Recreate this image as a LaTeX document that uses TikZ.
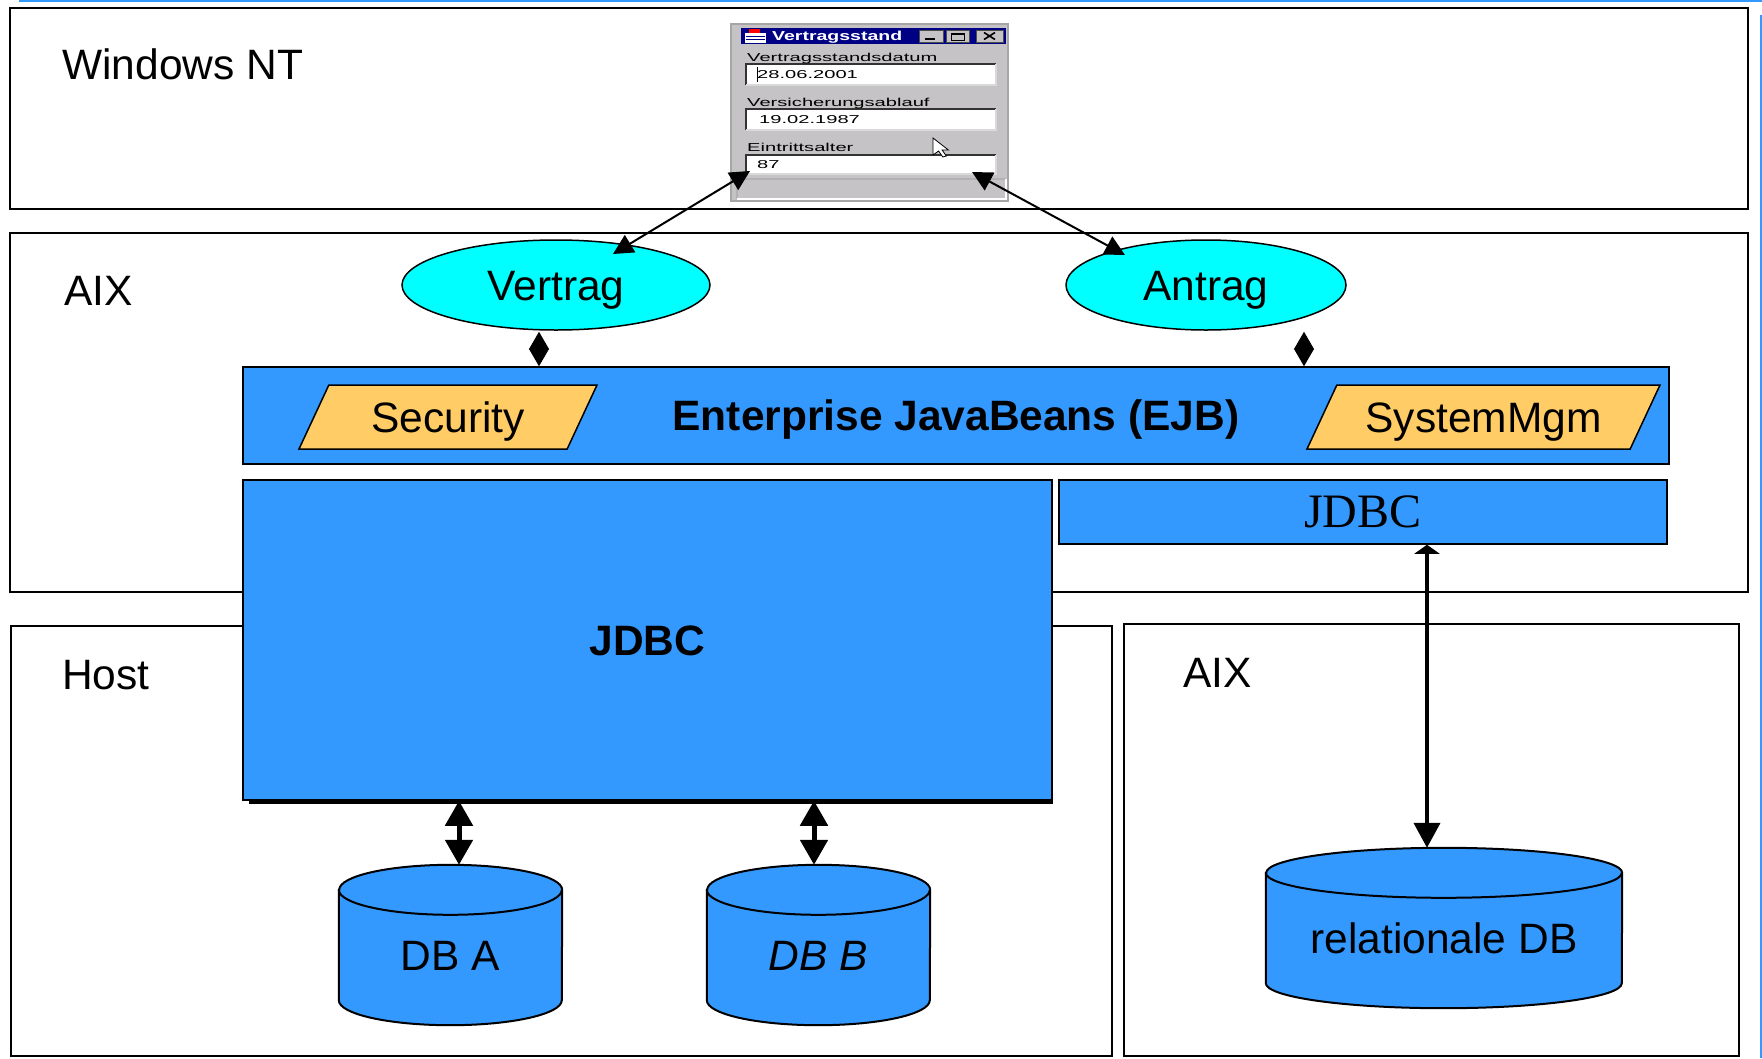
\documentclass[tikz,border=0pt]{standalone}
\usepackage{fontspec}
\usepackage{graphicx}
\setmainfont{Liberation Sans}
\newfontfamily\timesfont{Liberation Serif}
\usetikzlibrary{shapes.geometric,positioning,arrows.meta,backgrounds}
\definecolor{beancolor}{RGB}{51,153,255}
\definecolor{tiercolor}{RGB}{0,255,255}
\definecolor{svccolor}{RGB}{255,204,102}
\definecolor{wingray}{RGB}{198,195,198}
\definecolor{winblue}{RGB}{0,0,132}
\newcommand{\dlgtext}[1]{\scalebox{1.75}[1]{\fontsize{11.5}{12}\selectfont #1}}

\begin{document}
\begin{tikzpicture}[%
    x=1pt, y=1pt,               % one unit is one pixel of the slide
    >={Triangle[length=20pt,width=20pt]},
    font=\fontsize{42.5}{50}\selectfont,
    ]
\tikzset{
  tier/.style={draw, line width=2pt, rectangle, inner sep=0pt},
  tierlbl/.style={anchor=base west, inner sep=0pt},
  bean/.style={draw, ellipse, line width=1.5pt, fill=tiercolor, inner sep=0pt,
    text height=30.5pt, text depth=0pt},
  layer/.style={draw, rectangle, line width=1.5pt, fill=beancolor, inner sep=0pt,
    text height=30.5pt, text depth=0pt},
  svc/.style={draw, trapezium, trapezium left angle=65, trapezium right angle=115,
    trapezium stretches body=true, line width=1.5pt, fill=svccolor,
    inner xsep=0pt, inner ysep=16.75pt, text height=30.5pt, text depth=0pt},
  db/.style={rectangle, inner sep=0pt, text height=50pt, text depth=0pt},
  dbshape/.style={draw, line width=2pt, fill=beancolor},
  dlgtxt/.style={anchor=base west, inner sep=0pt},
  thin/.style={<->, line width=2pt},
  diam/.style={{Triangle[length=17.5pt,width=20pt]}-{Triangle[length=17.5pt,width=20pt]}, line width=1pt},
  dblink/.style={{Triangle[length=25pt,width=27pt]}-{Triangle[length=25pt,width=27pt]}, line width=5pt},
  rellink/.style={{Triangle[length=9pt,width=25pt]}-{Triangle[length=25pt,width=26pt]}, line width=4pt},
}
\useasboundingbox (0,0) rectangle (1762,-1058);

% slide frame
\draw[beancolor, line width=2pt] (19,-1) -- (1762,-1);
\draw[beancolor, line width=1.5pt] (1761,-15) -- (1761,-1058);

% tiers
\node[tier, minimum width=1738pt, minimum height=201pt] (winnt) at (879,-108.5) {};
\node[tier, minimum width=1738pt, minimum height=359pt] (aixtop) at (879,-412.5) {};
\node[tier, minimum width=1101pt, minimum height=430pt] (host) at (561.5,-841) {};
\node[tier, minimum width=615pt, minimum height=432pt] (aixbot) at (1431.5,-840) {};

\node[tierlbl] (winntlbl) at (62,-79) {Windows NT};
\node[tierlbl] (aixtoplbl) at (64,-305) {AIX};
\node[tierlbl] (hostlbl) at (62,-689) {Host};
\node[tierlbl] (aixbotlbl) at (1183,-687) {AIX};

% beans
\node[bean, minimum width=308pt, minimum height=90pt] (vertrag) at (556,-285) {Vertrag};
\node[bean, minimum width=280pt, minimum height=90pt] (antrag) at (1206,-285) {Antrag};

\node[layer, minimum width=1426pt, minimum height=97pt, font=\fontsize{42.5}{50}\selectfont\bfseries]
  (ejb) at (956,-415.5) {Enterprise JavaBeans (EJB)};
\node[svc, minimum width=298pt] (security) at (448,-417) {Security};
\node[svc, minimum width=353pt] (sysmgm) at (1483.5,-417) {SystemMgm};

\node[layer, minimum width=809pt, minimum height=320pt, font=\fontsize{42.5}{50}\selectfont\bfseries]
  (jdbcbig) at (647.5,-640) {JDBC};
\draw[line width=3pt] ([xshift=7pt,yshift=-2pt]jdbcbig.south west) -- ([yshift=-2pt]jdbcbig.south east);
\node[layer, minimum width=608pt, minimum height=64pt, text height=31.8pt, font=\fontsize{48}{56}\timesfont]
  (jdbcsmall) at (1363,-512) {JDBC};

% databases
\node[db, minimum width=223pt, minimum height=160pt] (dba) at (450.5,-945) {DB A};
\node[db, minimum width=223pt, minimum height=160pt, font=\fontsize{42.5}{50}\selectfont\itshape]
  (dbb) at (818.5,-945) {DB B};
\node[db, minimum width=356pt, minimum height=160pt] (reldb) at (1444,-928) {relationale DB};

\begin{pgfonlayer}{background}
\foreach \n/\r in {dba/111.5, dbb/111.5, reldb/178} {
  \path[dbshape] ([yshift=-25pt]\n.north west) -- ([yshift=25pt]\n.south west)
    arc[start angle=180, end angle=360, x radius=\r pt, y radius=25pt]
    -- ([yshift=-25pt]\n.north east)
    arc[start angle=0, end angle=180, x radius=\r pt, y radius=25pt] -- cycle;
  \draw[line width=2pt] ([yshift=-25pt]\n.north west)
    arc[start angle=180, end angle=360, x radius=\r pt, y radius=25pt];
}
\end{pgfonlayer}

% dialog window
\node[rectangle, draw=gray!70, fill=wingray, line width=1.5pt, inner sep=0pt,
  minimum width=277pt, minimum height=177pt] (dialog) at (869.5,-112.5) {};
\fill[winblue] (741,-28) rectangle (1006,-44);
\fill[white] (745,-33) rectangle (766,-43);
\fill[red] (749,-29) rectangle (760,-33);
\draw[winblue, line width=1pt] (746,-36) -- (765,-36) (746,-39.5) -- (765,-39.5);
\node[dlgtxt, text=white] (dlgtitle) at (772,-40)
  {\scalebox{1.5}[1]{\fontsize{13}{14}\selectfont\bfseries Vertragsstand}};
\foreach \a/\b in {919/943, 946/969, 976/1003}
  \filldraw[fill=wingray, draw=black!70, line width=1pt] (\a,-30) rectangle (\b,-42);
\draw[line width=2pt] (925,-39) -- (935,-39);
\draw[line width=1pt] (951,-33) rectangle (964,-40);
\draw[line width=2pt] (951,-33.5) -- (964,-33.5);
\draw[line width=1.6pt] (984,-32.5) -- (995,-39.5) (984,-39.5) -- (995,-32.5);

\foreach \t/\b in {64/85, 109/130, 155/174} {
  \fill[white] (746,-\t) rectangle (996,-\b);
  \draw[black!80, line width=1.5pt] (746,-\b) -- (746,-\t) -- (996,-\t);
  \draw[gray!30, line width=1.5pt] (996,-\t) -- (996,-\b) -- (746,-\b);
}
\draw[gray!60, line width=1.5pt] (737,-199) -- (737,-179) -- (1006,-179);
\draw[white, line width=1.5pt] (1006,-179) -- (1006,-199) -- (737,-199);

\node[dlgtxt] (lbldatum) at (747,-61) {\dlgtext{Vertragsstandsdatum}};
\node[dlgtxt] (valdatum) at (757,-78) {\dlgtext{28.06.2001}};
\draw[line width=1pt] (757,-67) -- (757,-82);
\node[dlgtxt] (lblablauf) at (747,-106) {\dlgtext{Versicherungsablauf}};
\node[dlgtxt] (valablauf) at (759,-123) {\dlgtext{19.02.1987}};
\node[dlgtxt] (lblalter) at (747,-151) {\dlgtext{Eintrittsalter}};
\node[dlgtxt] (valalter) at (757,-168) {\dlgtext{87}};

\draw[fill=white, line width=0.8pt, shift={(933,-138)}, xscale=1.4]
  (0,0) -- (0,-17) -- (4,-13) -- (7,-19) -- (9.5,-18) -- (6.5,-12) -- (11,-12) -- cycle;

% connect
\coordinate (dlgleft) at (750,-171);
\coordinate (dlgright) at (972,-172);
\draw[thin] ([shift={(57pt,31pt)}]vertrag.center) -- (dlgleft);
\draw[thin] ([shift={(-81pt,30pt)}]antrag.center) -- (dlgright);

\coordinate (vertragport) at ([xshift=-17pt,yshift=-1pt]vertrag.south);
\coordinate (antragport) at ([xshift=98pt,yshift=-1pt]antrag.south);
\draw[diam] (vertragport) -- (vertragport |- ejb.north);
\draw[diam] (antragport) -- (antragport |- ejb.north);

\coordinate (dbaport) at ([xshift=8.5pt]dba.north);
\coordinate (dbbport) at ([xshift=-4.5pt]dbb.north);
\coordinate (reldbport) at ([xshift=-17pt]reldb.north);
\draw[dblink] (dbaport |- jdbcbig.south) -- (dbaport);
\draw[dblink] (dbbport |- jdbcbig.south) -- (dbbport);
\draw[rellink] (reldbport |- jdbcsmall.south) -- (reldbport);

\end{tikzpicture}
\end{document}
